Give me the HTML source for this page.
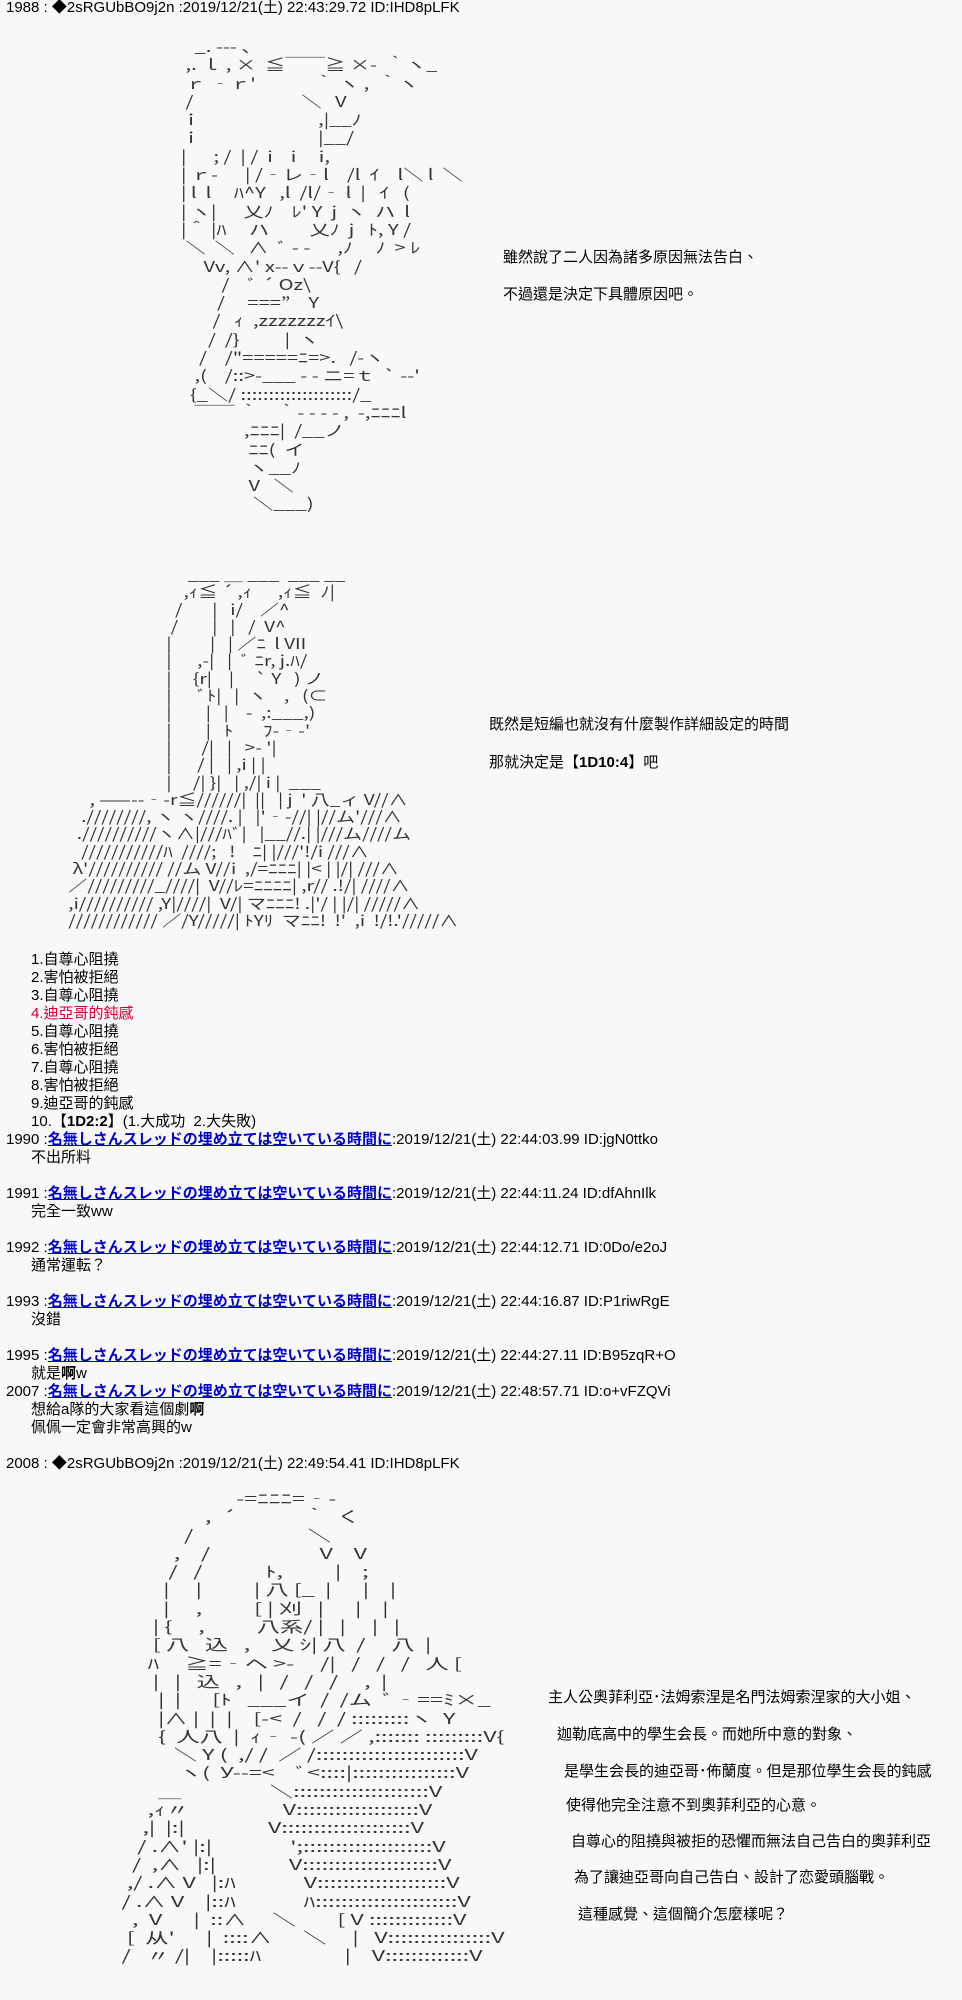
<!DOCTYPE html>
<html><head><meta charset="utf-8"><style>
body{margin:0;background:#f8f8fa;width:962px;height:2000px;overflow:hidden;font-family:"Liberation Sans","Noto Sans CJK TC",sans-serif;font-size:15px;color:#000;position:relative}
.a{position:absolute;white-space:pre;line-height:18px}
.art{position:absolute;white-space:pre;font-family:"Noto Sans CJK JP",sans-serif;font-size:15px;line-height:18.3px;color:#333;transform-origin:0 0}
.l{color:#00c;text-decoration:underline;font-weight:bold}
.r{color:#d00030}
.t{position:absolute;white-space:nowrap;font-size:15px;line-height:18px}
</style></head><body>
<div class="a" style="left:6px;top:-1px">1988 : ◆2sRGUbBO9j2n :2019/12/21(土) 22:43:29.72 ID:IHD8pLFK</div>

<div class="art" style="left:181px;top:38px;transform:scaleX(1.34)">   _. --- 、
 ,. ｌ , ×  ≦￣￣≧ ×-  ｀ヽ_
 ｒ ‐ｒ'             ｀ ヽ ,  ｀ヽ
 /                        ＼   V
ｉ                          ,|__ﾉ
ｉ                          |__/
|      ; /  | /  i    i     i,
| ｒ-      | /‐レ‐l    /l  ｲ    l＼ l  ＼
| l  l     ﾊ^Y   ,l  /l/‐ l  |   ｲ   (
| ヽ|      乂ﾉ    ﾚ' Y  j  ヽ  ハ  l
|＾ |ﾊ     ハ         乂ﾉ  j   ﾄ, Y /
 ＼  ＼   ∧  ﾞ - -      ,ﾉ     ﾉ  > ﾚ
     Vv, ∧' x--ｖ--V{   /
         /    ﾞ ´ Oz\
        /     ===”    Y
       /   ｨ  ,zzzzzzzｲ\
      /  /}          |  ヽ
    /    /"=====ﾆ=>.   /-ヽ
   ,(    /::>-___ - - ニ=ｔ  ` --'
  {_＼/ ::::::::::::::::::::/_
   ￣￣ ｀    ｀- - - - ,  -,ﾆﾆﾆl
              ,ﾆﾆﾆ|  /__ノ
               ﾆﾆ(  イ
               ヽ__ﾉ
               V   ＼
                ＼___)</div>

<div class="t" style="left:503px;top:249px">雖然說了二人因為諸多原因無法告白、</div>
<div class="t" style="left:503px;top:286px">不過還是決定下具體原因吧。</div>

<div class="art" style="left:64px;top:566px;line-height:17.3px;transform:scaleX(1.27)">                             ___ ＿ ___  ___ __
                            ,ｨ≦ ´ ,ｨ      ,ｨ≦  ﾉ|
                          /       |   i/    ／^
                         /        |   |   /  V^
                        |         |   | ／ﾆ  l VII
                        |      ,-|   |  ﾞ ﾆr, j.ﾊ/
                        |     {r|    |     ` Y   ) ノ
                        |      ﾞﾄ|   |  ヽ    ,   (⊂
                        |        |   |    -  ,:___,)
                        |        |   ﾄ       ﾌ-‐-'
                        |       /|   |   >- '|
                        |      / |   | ,i | |
                        |     /| }|   | ,/| i |  ___
      , ——--‐-r≦//////|  ||   | j  ' 八_ィ V//∧
    .////////, ヽ ヽ////. |   |'‐-//| |//ム'///∧
   .//////////ヽ∧|///ﾊﾞ|   |__//.| |///ム////ム
    ///////////ﾊ  ////;   !    ﾆ| |///'!/i ///∧
  λ'////////// //ム V//i  ,/=ﾆﾆﾆ| |< | |/| ///∧
 ／/////////_////|  V//ﾚ=ﾆﾆﾆﾆ| ,r// .!/| ////∧
 ,i////////// ,Y|////|  V/| マﾆﾆﾆ! .|'/ | |/| /////∧
 //////////// ／/Y/////| ﾄYﾘ  マﾆﾆ!  !'  ,i  !/!.'/////∧</div>

<div class="t" style="left:489px;top:716px">既然是短編也就沒有什麼製作詳細設定的時間</div>
<div class="t" style="left:489px;top:754px">那就決定是【<b>1D10:4</b>】吧</div>

<div class="a" style="left:6px;top:951px">      1.自尊心阻撓
      2.害怕被拒絕
      3.自尊心阻撓
      <span class="r">4.迪亞哥的鈍感</span>
      5.自尊心阻撓
      6.害怕被拒絕
      7.自尊心阻撓
      8.害怕被拒絕
      9.迪亞哥的鈍感
      10.【<b>1D2:2</b>】(1.大成功  2.大失敗)
1990 :<span class="l">名無しさんスレッドの埋め立ては空いている時間に</span>:2019/12/21(土) 22:44:03.99 ID:jgN0ttko
      不出所料

1991 :<span class="l">名無しさんスレッドの埋め立ては空いている時間に</span>:2019/12/21(土) 22:44:11.24 ID:dfAhnIlk
      完全一致ww

1992 :<span class="l">名無しさんスレッドの埋め立ては空いている時間に</span>:2019/12/21(土) 22:44:12.71 ID:0Do/e2oJ
      通常運転？

1993 :<span class="l">名無しさんスレッドの埋め立ては空いている時間に</span>:2019/12/21(土) 22:44:16.87 ID:P1riwRgE
      沒錯

1995 :<span class="l">名無しさんスレッドの埋め立ては空いている時間に</span>:2019/12/21(土) 22:44:27.11 ID:B95zqR+O
      就是<b>啊</b>w
2007 :<span class="l">名無しさんスレッドの埋め立ては空いている時間に</span>:2019/12/21(土) 22:48:57.71 ID:o+vFZQVi
      想給a隊的大家看這個劇<b>啊</b>
      佩佩一定會非常高興的w

2008 : ◆2sRGUbBO9j2n :2019/12/21(土) 22:49:54.41 ID:IHD8pLFK</div>

<div class="art" style="left:106px;top:1490px;transform:scaleX(1.55)">                         -=ﾆﾆﾆ=‐-
                   ,  ´             ｀  く
               /                      ＼
             ,    /                     V    V
            /   /            ﾄ,          |    ;
           |     |          | 八 [_  |      |    |
           |     ,          [ | 刈   |      |    |
         | {     ,          八系/ |   |     |   |
         [ 八   込   ,    乂 ｼ| 八  /     八  |
        ﾊ     ≧=‐ヘ >-     /|   /   /   /   人 [
         |   |   込   ,   |   /   /   /     ,  |
          |  |      [ﾄ   ___イ  /  /ム  ﾞ‐==ﾐ×_
          |∧ |  |  |    [-<  /   /  / :::::::::ヽ  Y
          {  人八  |  ｨ‐ -( ／ ／ ,::::::: :::::::::V{
             ＼ Y (  ,/ /  ／ /:::::::::::::::::::::::V
              ヽ(  У--=<    ﾞ<::::|::::::::::::::::V
          ＿                 ＼:::::::::::::::::::::V
        ,ｨ〃                  V:::::::::::::::::::V
       ,|  |:|                V::::::::::::::::::::V
      / .∧' |:|               ';::::::::::::::::::::V
     /  ,∧   |:|              V:::::::::::::::::::::V
    ,/ .∧ V   |:ﾊ             V::::::::::::::::::::V
   / .∧ V    |::ﾊ             ﾊ::::::::::::::::::::::V
     ,  V      |  ::∧     ＼        [ V :::::::::::::V
    [  从'      |  ::::∧      ＼     |   V::::::::::::::::V
   /   〃 /|    |:::::ﾊ                |    V:::::::::::::V</div>

<div class="t" style="left:548px;top:1689px">主人公奧菲利亞･法姆索涅是名門法姆索涅家的大小姐、</div>
<div class="t" style="left:557px;top:1726px">迦勒底高中的學生会長。而她所中意的對象、</div>
<div class="t" style="left:564px;top:1763px">是學生会長的迪亞哥･佈蘭度。但是那位學生会長的鈍感</div>
<div class="t" style="left:566px;top:1797px">使得他完全注意不到奧菲利亞的心意。</div>
<div class="t" style="left:571px;top:1833px">自尊心的阻撓與被拒的恐懼而無法自己告白的奧菲利亞</div>
<div class="t" style="left:574px;top:1869px">為了讓迪亞哥向自己告白、設計了恋愛頭腦戰。</div>
<div class="t" style="left:578px;top:1906px">這種感覺、這個簡介怎麼樣呢？</div>
</body></html>
